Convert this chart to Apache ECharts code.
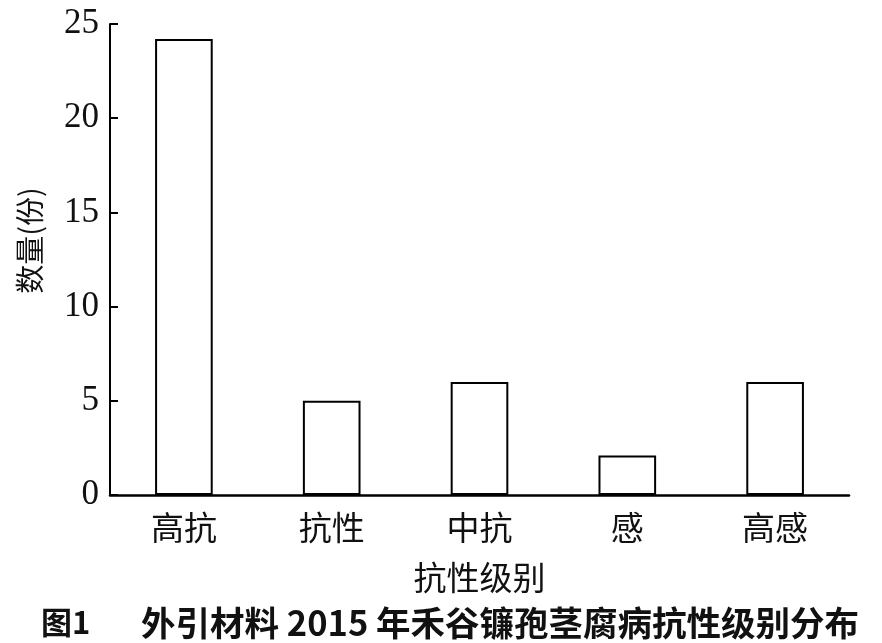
<!DOCTYPE html>
<html>
<head>
<meta charset="utf-8">
<script src="https://cdn.jsdelivr.net/npm/echarts@6/dist/echarts.min.js"></script>
<style>html,body{margin:0;padding:0;background:#fff;}#c{width:882px;height:643px;}</style>
</head>
<body>
<div id="c"></div>
<script>
const categories = ['高抗', '抗性', '中抗', '感', '高感'];
const counts = [24.2, 5, 6, 2.1, 6];
const yTicks = { min: 0, max: 25, interval: 5 };
const xName = '抗性级别';
const yName = '数量(份)';
const figLabel = '图1';
const figTitle = '外引材料 2015 年禾谷镰孢茎腐病抗性级别分布';

const chart = echarts.init(document.getElementById('c'), null, { renderer: 'canvas' });
const cjk = '"Noto Sans CJK SC", "Noto Sans", sans-serif';
const serif = '"Liberation Serif", "DejaVu Serif", serif';
chart.setOption({
  backgroundColor: '#fff',
  animation: false,
  title: [
    { text: figLabel, left: 36, top: 602, textStyle: { fontFamily: cjk, fontWeight: 'bold', fontSize: 31, color: '#111' } },
    { text: figTitle, left: 136, top: 601, textStyle: { fontFamily: cjk, fontWeight: 'bold', fontSize: 34.5, color: '#111' } }
  ],
  grid: { left: 110, right: 33, top: 24, bottom: 148, containLabel: false },
  xAxis: {
    type: 'category',
    data: categories,
    name: xName,
    nameLocation: 'middle',
    nameGap: 66,
    nameTextStyle: { fontFamily: cjk, fontSize: 33, color: '#111' },
    axisLine: { lineStyle: { color: '#000', width: 2.5 } },
    axisTick: { show: false },
    axisLabel: { fontFamily: cjk, fontSize: 33, color: '#111', margin: 16 },
    splitLine: { show: false }
  },
  yAxis: {
    type: 'value',
    min: yTicks.min, max: yTicks.max, interval: yTicks.interval,
    name: yName,
    nameLocation: 'middle',
    nameGap: 66,
    nameTextStyle: { fontFamily: cjk, fontSize: 29, color: '#111', padding: [0, 0, 0, 38] },
    axisLine: { show: true, lineStyle: { color: '#000', width: 2 } },
    axisTick: { show: true, inside: true, length: 8, lineStyle: { color: '#000', width: 2 } },
    axisLabel: { fontFamily: serif, fontSize: 35, color: '#111', margin: 11 },
    splitLine: { show: false }
  },
  series: [{
    type: 'bar',
    data: counts,
    barWidth: '39%',
    itemStyle: { color: '#fff', borderColor: '#000', borderWidth: 2 }
  }]
});
</script>
</body>
</html>
